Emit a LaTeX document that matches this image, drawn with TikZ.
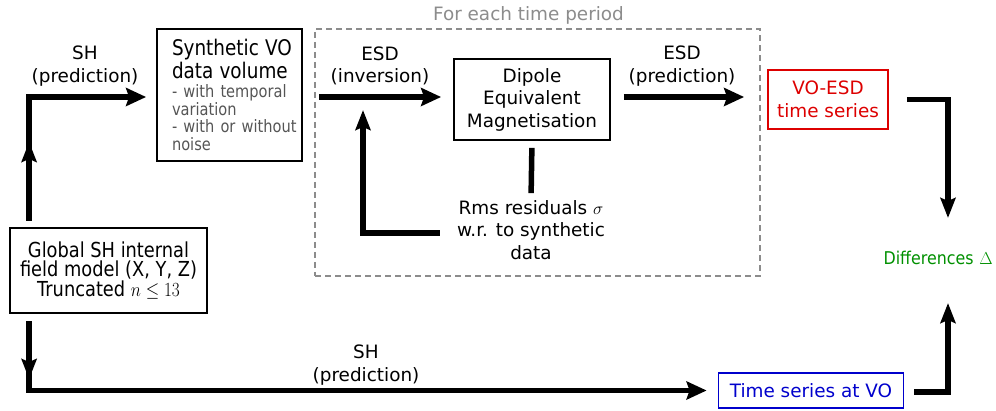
\documentclass[tikz,border=0pt]{standalone}
\usepackage{fontspec}
\setmainfont{DejaVu Sans}
\newfontfamily\condfont{DejaVu Sans Condensed}
\usetikzlibrary{arrows.meta,decorations.markings}

\definecolor{subgrey}{HTML}{555555}
\definecolor{framegrey}{HTML}{8C8C8C}
\definecolor{vored}{HTML}{DD0000}
\definecolor{voblue}{HTML}{0000CC}
\definecolor{diffgreen}{HTML}{009000}

\begin{document}
\begin{tikzpicture}[x=1pt,y=-1pt,
  every node/.style={font=\fontsize{18.4}{22.5}\selectfont, inner sep=0pt},
  box/.style={draw, line width=1.8pt, align=center},
  label/.style={align=center},
  plain/.style={line width=5.5pt},
  flow/.style={line width=5.5pt, -{Stealth[length=20pt,width=18pt,inset=3pt]}},
  vflow/.style={line width=5.5pt, -{Stealth[length=20pt,width=15pt,inset=3pt]}},
  midtip/.style={postaction={decorate},
    decoration={markings, mark=at position #1 with {\arrow{Stealth[length=20pt,width=15pt,inset=3pt]}}}}
]
\useasboundingbox (0,0) rectangle (996,411);

% source model (lettering set tall and narrow)
\begin{scope}[shift={(108.5,270.5)}, yscale=1.16]
\node[box, transform shape, minimum width=197pt, minimum height=73.3pt,
  font=\fontsize{17.8}{17.2}\selectfont] (gsh) at (0,0)
  {Global SH internal\\field model (X, Y, Z)\\Truncated $n\leq 13$};
\end{scope}

% synthetic data volume
\begin{scope}[shift={(229.5,95)}, yscale=1.17]
\node[box, transform shape, minimum width=145pt, minimum height=112.8pt,
  text width=138pt, align=left] (syn) at (0,0)
  {\leftskip=11.5pt\hyphenpenalty=10000\exhyphenpenalty=10000
   {\fontsize{18.4}{19.7}\selectfont Synthetic VO\\data volume\par}\vspace{1.2pt}
   {\fontsize{14.6}{15}\selectfont\color{subgrey}- with temporal\\variation\\- with or without\\noise\par}};
\end{scope}

% per-period inversion frame
\node[draw=framegrey, dashed, line width=1.4pt, dash pattern=on 6pt off 4pt,
  minimum width=445pt, minimum height=247pt] (period) at (537.5,152.5) {};
\node[text=framegrey] (periodlbl) at (528.5,15) {For each time period};

\node[box, minimum width=156pt, minimum height=81pt] (dem) at (532,99.5)
  {Dipole\\Equivalent\\Magnetisation};
\node[label] (rms) at (531,230) {Rms residuals $\sigma$\\w.r. to synthetic\\data};
\coordinate (fbtip) at (363,110);

% outputs
\node[box, draw=vored, text=vored, minimum width=120pt, minimum height=59pt] (voesd) at (828,99.5)
  {VO-ESD\\time series};
\node[box, draw=voblue, text=voblue, minimum width=185pt, minimum height=35pt] (tsvo) at (811,390.5)
  {Time series at VO};
\node[text=diffgreen, font=\fontsize{17.6}{22}\selectfont, anchor=east] (diff) at (993,258)
  {\condfont Differences\hspace{6pt}{\fontsize{19}{22}\selectfont$\Delta$}};

% arrow labels
\node[label] (shtop) at (85,66) {SH\\(prediction)};
\node[label] (esdinv) at (380,66) {ESD\\(inversion)};
\node[label] (esdpred) at (682,66) {ESD\\(prediction)};
\node[label] (shbot) at (366,365) {SH\\(prediction)};

% connectors
\draw[flow, midtip=79pt, shorten >=10pt]
  ([xshift=20pt,yshift=6pt]gsh.north west) |- ([yshift=-2pt]syn.west);
\draw[flow, midtip=58pt, shorten >=11pt]
  ([xshift=20pt,yshift=-7pt]gsh.south west) |- (tsvo.west);
\draw[flow, shorten <=5pt, shorten >=12pt]
  ([yshift=2.5pt]period.west |- dem.west) -- ([yshift=2.5pt]dem.west);
\draw[flow, shorten <=13pt, shorten >=23pt]
  ([yshift=2.5pt]dem.east) -- ([yshift=2.5pt]voesd.west);
\draw[plain, shorten <=7pt, shorten >=7pt] (dem.south) -- (rms.north);
\draw[vflow] ([xshift=-17pt,yshift=-3pt]rms.west) -| (fbtip);
\draw[vflow, shorten >=33pt]
  ([xshift=18pt]voesd.east) -| ([xshift=-45pt]diff.north east);
\draw[vflow, shorten >=38pt]
  ([xshift=10pt,yshift=-1.5pt]tsvo.east) -| ([xshift=-45pt]diff.south east);
\end{tikzpicture}
\end{document}
